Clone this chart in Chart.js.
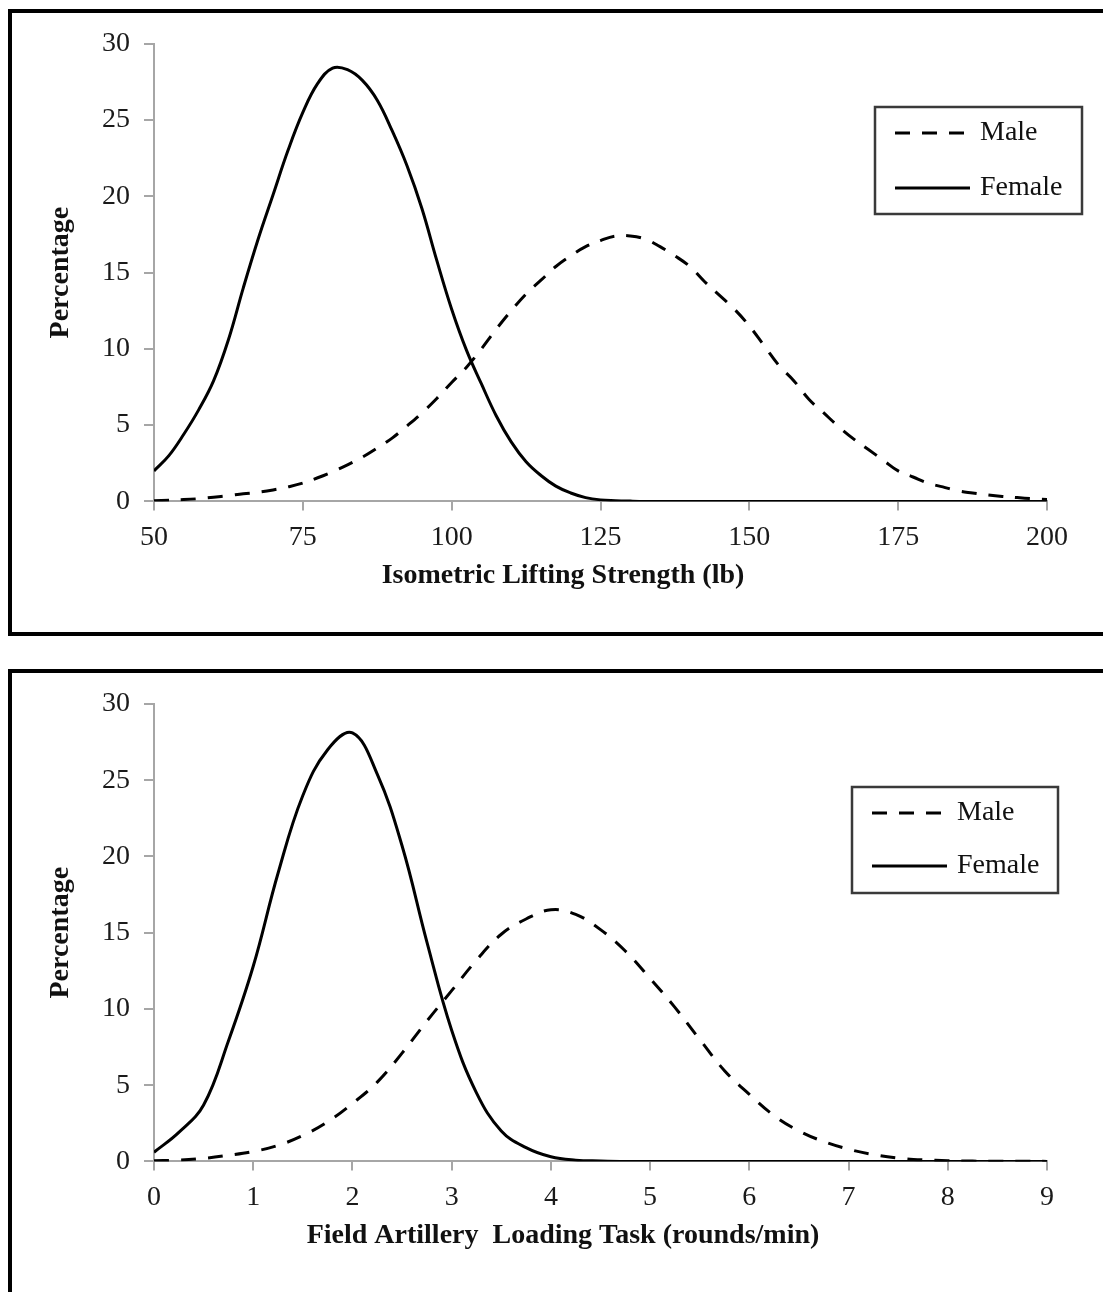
<!DOCTYPE html>
<html>
<head>
<meta charset="utf-8">
<title>Strength distributions by sex</title>
<script src="https://cdn.jsdelivr.net/npm/chart.js@4.4.1/dist/chart.umd.min.js"></script>
<style>
  html, body { margin: 0; padding: 0; background: #fff; }
  body { position: relative; width: 1103px; height: 1292px; overflow: hidden; }
  .panel { position: absolute; left: 8px; width: 1130px; border: 4px solid #000; box-sizing: border-box; }
  canvas { position: absolute; left: 12px; }
</style>
</head>
<body>
<div class="panel" style="top:9px; height:627px"></div>
<div class="panel" style="top:669px; height:660px"></div>
<canvas id="lift-chart" width="1091" height="619" style="top:13px"></canvas>
<canvas id="load-chart" width="1091" height="619" style="top:673px"></canvas>
<script>
// --- top chart: isometric lifting strength (lb) ---
const liftX = [50, 52.5, 55, 57.5, 60, 62.5, 65, 67.5, 70, 72.5, 75, 77.5, 80, 82.5, 85, 87.5,
  90, 92.5, 95, 97.5, 100, 102.5, 105, 107.5, 110, 112.5, 115, 117.5, 120, 122.5, 125, 127.5,
  130, 132.5, 135, 137.5, 140, 142.5, 145, 147.5, 150, 152.5, 155, 157.5, 160, 162.5, 165, 167.5,
  170, 172.5, 175, 177.5, 180, 182.5, 185, 187.5, 190, 192.5, 195, 197.5, 200];
const liftMale = [0.05, 0.08, 0.12, 0.18, 0.27, 0.38, 0.5, 0.6, 0.75, 0.95, 1.2, 1.55, 1.95, 2.4, 2.9, 3.5,
  4.15, 4.95, 5.8, 6.75, 7.8, 8.8, 10.0, 11.3, 12.5, 13.6, 14.5, 15.4, 16.1, 16.7, 17.1, 17.4,
  17.4, 17.2, 16.7, 16.1, 15.4, 14.4, 13.5, 12.6, 11.5, 10.2, 8.9, 7.9, 6.7, 5.8, 4.9, 4.1,
  3.4, 2.7, 2.0, 1.6, 1.2, 0.95, 0.7, 0.55, 0.42, 0.32, 0.25, 0.18, 0.13];
const liftFemale = [2.0, 3.0, 4.4, 6.0, 7.9, 10.6, 14.0, 17.2, 20.1, 23.0, 25.5, 27.4, 28.4, 28.3, 27.6, 26.3,
  24.3, 22.0, 19.2, 15.8, 12.6, 9.9, 7.7, 5.6, 3.9, 2.6, 1.7, 1.0, 0.55, 0.25, 0.1, 0.05,
  0.02, 0, 0, 0, 0, 0, 0, 0, 0, 0, 0, 0, 0, 0, 0, 0,
  0, 0, 0, 0, 0, 0, 0, 0, 0, 0, 0, 0, 0];
const liftTicks = [50, 75, 100, 125, 150, 175, 200];

// --- bottom chart: field artillery loading task (rounds/min) ---
const loadX = [0, 0.25, 0.5, 0.75, 1, 1.25, 1.5, 1.75, 2, 2.25, 2.5, 2.75, 3, 3.25, 3.5, 3.75,
  4, 4.25, 4.5, 4.75, 5, 5.25, 5.5, 5.75, 6, 6.25, 6.5, 6.75, 7, 7.25, 7.5, 7.75,
  8, 8.25, 8.5, 8.75, 9];
const loadMale = [0.05, 0.08, 0.2, 0.4, 0.65, 1.05, 1.7, 2.6, 3.8, 5.2, 7.1, 9.2, 11.2, 13.2, 14.9, 15.9,
  16.5, 16.2, 15.2, 13.8, 12.0, 10.1, 8.0, 5.95, 4.4, 3.0, 2.0, 1.3, 0.8, 0.45, 0.22, 0.1,
  0.05, 0.02, 0.01, 0.01, 0];
const loadFemale = [0.6, 1.9, 3.7, 7.9, 12.8, 18.9, 24.0, 27.0, 28.1, 25.4, 20.7, 14.4, 8.6, 4.5, 2.0, 0.9,
  0.3, 0.08, 0.03, 0, 0, 0, 0, 0, 0, 0, 0, 0, 0, 0, 0, 0,
  0, 0, 0, 0, 0];
const loadTicks = [0, 1, 2, 3, 4, 5, 6, 7, 8, 9];

const percentTicks = [0, 5, 10, 15, 20, 25, 30];

const FONT = '"Liberation Serif", "Times New Roman", serif';
const AXIS_GRAY = '#a6a6a6';

Chart.defaults.font.family = FONT;
Chart.defaults.font.size = 28;
Chart.defaults.color = '#111';

// legend drawn as a framed box inside the plot, like the original figure
const boxLegend = {
    id: 'boxLegend',
    afterDraw(chart, args, opts) {
        const ctx = chart.ctx;
        ctx.save();
        ctx.lineWidth = 2.5;
        ctx.strokeStyle = '#3a3a3a';
        ctx.strokeRect(opts.left, opts.top, opts.width, opts.height);
        ctx.font = '28px ' + FONT;
        ctx.textBaseline = 'middle';
        ctx.fillStyle = '#111';
        chart.data.datasets.forEach((ds, i) => {
            const y = opts.top + opts.rows[i];
            ctx.beginPath();
            ctx.setLineDash(ds.borderDash || []);
            ctx.lineWidth = ds.borderWidth;
            ctx.strokeStyle = ds.borderColor;
            ctx.moveTo(opts.left + 20, y);
            ctx.lineTo(opts.left + 95, y);
            ctx.stroke();
            ctx.setLineDash([]);
            ctx.fillText(ds.label, opts.left + 105, y);
        });
        ctx.restore();
    }
};

function toPoints(xs, ys) {
    return xs.map((x, i) => ({ x: x, y: ys[i] }));
}

function makeChart(canvasId, cfg) {
    const ctx = document.getElementById(canvasId).getContext('2d');
    const line = {
        borderColor: '#000',
        borderWidth: 3,
        pointRadius: 0,
        fill: false,
        tension: 0.4,
        borderCapStyle: 'butt',
        borderJoinStyle: 'round'
    };
    return new Chart(ctx, {
        type: 'line',
        data: {
            datasets: [
                Object.assign({ label: 'Male', data: toPoints(cfg.xs, cfg.male), borderDash: [15, 12] }, line),
                Object.assign({ label: 'Female', data: toPoints(cfg.xs, cfg.female) }, line)
            ]
        },
        plugins: [boxLegend],
        options: {
            responsive: false,
            devicePixelRatio: 1,
            animation: false,
            layout: { padding: { top: cfg.top, left: 11, right: 0, bottom: 0 } },
            plugins: {
                legend: { display: false },
                tooltip: { enabled: false },
                title: {
                    display: true,
                    position: 'bottom',
                    text: cfg.title,
                    color: '#111',
                    font: { size: 28, weight: 'bold' },
                    padding: { top: 8, bottom: 39 }
                },
                boxLegend: cfg.legend
            },
            scales: {
                x: {
                    type: 'linear',
                    min: cfg.xTicks[0],
                    max: cfg.xTicks[cfg.xTicks.length - 1],
                    afterBuildTicks: s => { s.ticks = cfg.xTicks.map(v => ({ value: v })); },
                    ticks: { color: '#1a1a1a', padding: 10, maxRotation: 0, autoSkip: false },
                    grid: { drawOnChartArea: false, tickLength: 9, color: AXIS_GRAY, lineWidth: 2 },
                    border: { color: AXIS_GRAY, width: 2 },
                    afterFit: s => { s.height = 50; }
                },
                y: {
                    min: 0,
                    max: 30,
                    afterBuildTicks: s => { s.ticks = percentTicks.map(v => ({ value: v })); },
                    ticks: { color: '#1a1a1a', padding: 14 },
                    grid: { drawOnChartArea: false, tickLength: 10, color: AXIS_GRAY, lineWidth: 2 },
                    border: { color: AXIS_GRAY, width: 2 },
                    title: {
                        display: true,
                        text: 'Percentage',
                        color: '#111',
                        font: { size: 28, weight: 'bold' },
                        padding: { top: 21, bottom: 0 }
                    },
                    afterFit: s => { s.width = 131; }
                },
                // empty right-hand box so the bottom title centres like the original
                y2: {
                    position: 'right',
                    display: true,
                    grid: { display: false },
                    border: { display: false },
                    ticks: { display: false },
                    afterFit: s => { s.width = 56; }
                }
            }
        }
    });
}

makeChart('lift-chart', {
    xs: liftX, male: liftMale, female: liftFemale, xTicks: liftTicks,
    top: 29,
    title: 'Isometric Lifting Strength (lb)',
    legend: { left: 863, top: 94, width: 207, height: 107, rows: [26, 81] }
});

makeChart('load-chart', {
    xs: loadX, male: loadMale, female: loadFemale, xTicks: loadTicks,
    top: 31,
    title: 'Field Artillery  Loading Task (rounds/min)',
    legend: { left: 840, top: 114, width: 206, height: 106, rows: [26, 79] }
});
</script>
</body>
</html>
